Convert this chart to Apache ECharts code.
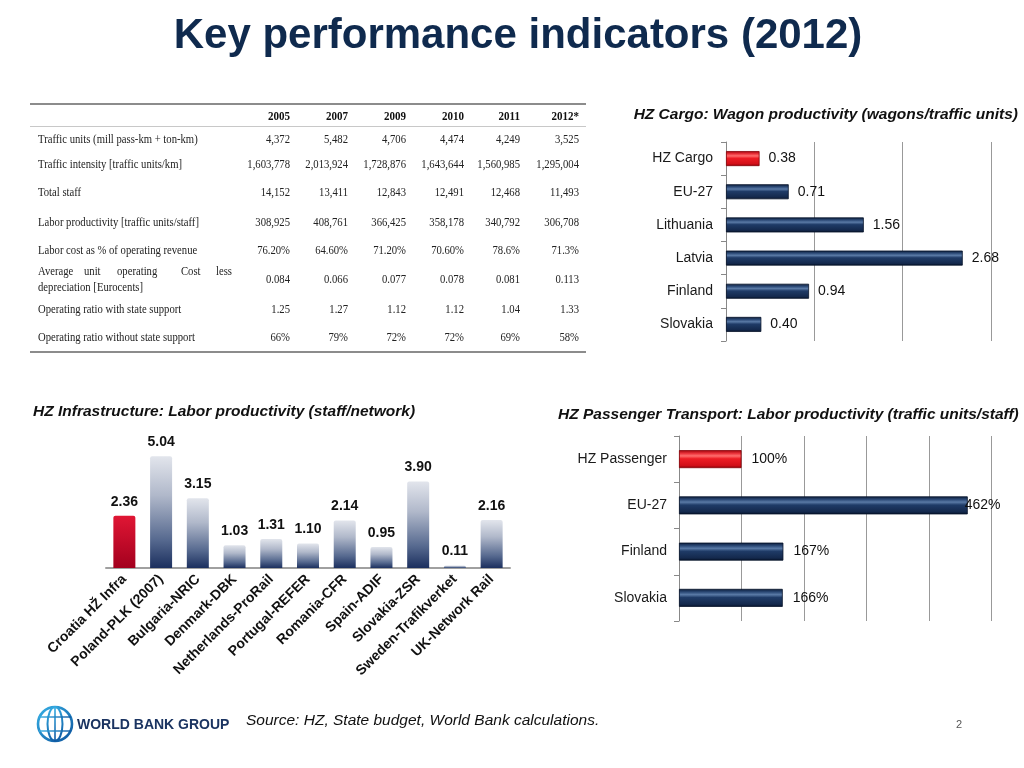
<!DOCTYPE html>
<html><head><meta charset="utf-8">
<script src="https://cdn.jsdelivr.net/npm/echarts@6/dist/echarts.min.js"></script>
<style>html,body{margin:0;padding:0;background:#fff}#c{width:1024px;height:768px}</style>
</head><body><div id="c"></div>
<script>
// ---------- DATA ----------
const tableYears = ['2005', '2007', '2009', '2010', '2011', '2012*'];
const tableRowLabels = [
  'Traffic units (mill pass-km + ton-km)',
  'Traffic intensity [traffic units/km]',
  'Total staff',
  'Labor productivity [traffic units/staff]',
  'Labor cost as % of operating revenue',
  'Average unit operating Cost less depreciation [Eurocents]',
  'Operating ratio with state support',
  'Operating ratio without state support'
];
const rowTrafficUnits = ['4,372', '5,482', '4,706', '4,474', '4,249', '3,525'];
const rowTrafficIntensity = ['1,603,778', '2,013,924', '1,728,876', '1,643,644', '1,560,985', '1,295,004'];
const rowTotalStaff = ['14,152', '13,411', '12,843', '12,491', '12,468', '11,493'];
const rowLaborProductivity = ['308,925', '408,761', '366,425', '358,178', '340,792', '306,708'];
const rowLaborCost = ['76.20%', '64.60%', '71.20%', '70.60%', '78.6%', '71.3%'];
const rowUnitCost = ['0.084', '0.066', '0.077', '0.078', '0.081', '0.113'];
const rowOpRatioWith = ['1.25', '1.27', '1.12', '1.12', '1.04', '1.33'];
const rowOpRatioWithout = ['66%', '79%', '72%', '72%', '69%', '58%'];

const cargoCategories = ['HZ Cargo', 'EU-27', 'Lithuania', 'Latvia', 'Finland', 'Slovakia'];
const cargoValues = [0.38, 0.71, 1.56, 2.68, 0.94, 0.40];

const infraCategories = ['Croatia HŽ Infra', 'Poland-PLK (2007)', 'Bulgaria-NRIC', 'Denmark-DBK',
  'Netherlands-ProRail', 'Portugal-REFER', 'Romania-CFR', 'Spain-ADIF', 'Slovakia-ZSR',
  'Sweden-Trafikverket', 'UK-Network Rail'];
const infraValues = [2.36, 5.04, 3.15, 1.03, 1.31, 1.10, 2.14, 0.95, 3.90, 0.11, 2.16];

const passengerCategories = ['HZ Passenger', 'EU-27', 'Finland', 'Slovakia'];
const passengerValues = [100, 462, 167, 166];

// ---------- STYLES ----------
const SANS = 'Arial, "Liberation Sans", Helvetica, sans-serif';
const SERIF = '"Times New Roman", "Liberation Serif", serif';
const navyH = {type: 'linear', x: 0, y: 0, x2: 0, y2: 1, colorStops: [
  {offset: 0, color: '#0a1b38'}, {offset: 0.18, color: '#2d4b78'}, {offset: 0.32, color: '#5a7aa6'},
  {offset: 0.48, color: '#1f3b67'}, {offset: 0.85, color: '#14294d'}, {offset: 1, color: '#06132a'}]};
const redH = {type: 'linear', x: 0, y: 0, x2: 0, y2: 1, colorStops: [
  {offset: 0, color: '#9a000a'}, {offset: 0.18, color: '#ea3038'}, {offset: 0.32, color: '#ff6e6e'},
  {offset: 0.48, color: '#ee1c24'}, {offset: 0.85, color: '#d20f18'}, {offset: 1, color: '#880008'}]};
const greyV = {type: 'linear', x: 0, y: 0, x2: 0, y2: 1, colorStops: [
  {offset: 0, color: '#e2e5ec'}, {offset: 0.35, color: '#b0b8ca'}, {offset: 0.75, color: '#56698f'},
  {offset: 1, color: '#1b2f5e'}]};
const redV = {type: 'linear', x: 0, y: 0, x2: 0, y2: 1, colorStops: [
  {offset: 0, color: '#e01634'}, {offset: 1, color: '#a3001e'}]};

// ---------- TABLE (graphic) ----------
const tableRows = [rowTrafficUnits, rowTrafficIntensity, rowTotalStaff, rowLaborProductivity,
  rowLaborCost, rowUnitCost, rowOpRatioWith, rowOpRatioWithout];
const rowY = [140, 165, 193, 223, 251, 280, 310, 338];
const colX = [290, 348, 406, 464, 520, 579];
const g = [];
function txt(x, y, text, font, fill, align, sx) {
  const el = {type: 'text', x: x, y: y, silent: true,
    style: {text: text, font: font, fill: fill || '#222', textAlign: align || 'left',
      textVerticalAlign: 'middle', verticalAlign: 'middle'}};
  if (sx) { el.scaleX = sx; }
  g.push(el);
  return el;
}
function line(x1, y1, x2, y2, stroke, w) {
  g.push({type: 'line', silent: true, shape: {x1, y1, x2, y2}, style: {stroke, lineWidth: w}});
}
const TF = '13px ' + SERIF, TS = 0.82;
line(30, 104, 586, 104, '#666', 1.5);
line(30, 126.5, 586, 126.5, '#c8c8c8', 1);
line(30, 352, 586, 352, '#666', 1.5);
tableYears.forEach((yr, i) => txt(colX[i], 117, yr, 'bold 13px ' + SERIF, '#111', 'right', 0.85));
tableRowLabels.forEach((lab, r) => {
  if (r === 5) {
    const words = lab.split(' ');
    const wx = [38, 84, 117, 181, 216];
    for (let k = 0; k < 5; k++) txt(wx[k], 272, words[k], TF, '#222', 'left', TS);
    txt(38, 288, words.slice(5).join(' '), TF, '#222', 'left', TS);
  } else {
    txt(38, rowY[r], lab, TF, '#222', 'left', TS);
  }
  tableRows[r].forEach((v, i) => txt(colX[i], rowY[r], v, TF, '#222', 'right', TS));
});

// ---------- TITLES ----------
txt(518, 36, 'Key performance indicators (2012)', 'bold 42px ' + SANS, '#0f2a4e', 'center');
txt(1018, 115, 'HZ Cargo: Wagon productivity (wagons/traffic units)', 'italic bold 15.5px ' + SANS, '#111', 'right');
txt(33, 412, 'HZ Infrastructure: Labor productivity (staff/network)', 'italic bold 15.5px ' + SANS, '#111', 'left');
txt(558, 415, 'HZ Passenger Transport: Labor productivity (traffic units/staff)', 'italic bold 15.5px ' + SANS, '#111', 'left');

// ---------- FOOTER ----------
txt(246, 721, 'Source: HZ, State budget, World Bank calculations.', 'italic 15.5px ' + SANS, '#111', 'left');
txt(959, 725, '2', '11px ' + SANS, '#555', 'center');
const globeGrad = {type: 'linear', x: 0, y: 0, x2: 1, y2: 1, colorStops: [
  {offset: 0, color: '#39b6ea'}, {offset: 1, color: '#0a4f9a'}]};
g.push({type: 'circle', silent: true, shape: {cx: 55, cy: 724, r: 17}, style: {fill: 'none', stroke: globeGrad, lineWidth: 2.6}});
g.push({type: 'ellipse', silent: true, shape: {cx: 55, cy: 724, rx: 7.5, ry: 17}, style: {fill: 'none', stroke: globeGrad, lineWidth: 2}});
g.push({type: 'line', silent: true, shape: {x1: 55, y1: 707, x2: 55, y2: 741}, style: {stroke: globeGrad, lineWidth: 1.6}});
g.push({type: 'line', silent: true, shape: {x1: 39, y1: 717, x2: 71, y2: 717}, style: {stroke: globeGrad, lineWidth: 1.4}});
g.push({type: 'line', silent: true, shape: {x1: 39, y1: 731, x2: 71, y2: 731}, style: {stroke: globeGrad, lineWidth: 1.4}});
txt(77, 725, 'WORLD BANK GROUP', 'bold 14px ' + SANS, '#1b3461', 'left');

// ---------- CHART ----------
const chart = echarts.init(document.getElementById('c'), null, {renderer: 'canvas'});
const catLabel = {fontSize: 14, color: '#1a1a1a', fontFamily: SANS};

chart.setOption({
  animation: false,
  backgroundColor: '#fff',
  grid: [
    {left: 726, top: 142, width: 265, height: 199},
    {left: 106, top: 435, width: 404, height: 133},
    {left: 679, top: 436, width: 312.5, height: 185}
  ],
  xAxis: [
    {type: 'value', gridIndex: 0, min: 0, max: 3, interval: 1,
      axisLine: {show: false}, axisTick: {show: false}, axisLabel: {show: false},
      splitLine: {lineStyle: {color: '#999', width: 1}}},
    {type: 'category', gridIndex: 1, data: infraCategories,
      axisLine: {lineStyle: {color: '#a0a0a0', width: 2}}, axisTick: {show: false},
      axisLabel: {interval: 0, rotate: 45, fontSize: 14, fontWeight: 'bold', color: '#111', fontFamily: SANS, margin: 9}},
    {type: 'value', gridIndex: 2, min: 0, max: 500, interval: 100,
      axisLine: {show: false}, axisTick: {show: false}, axisLabel: {show: false},
      splitLine: {lineStyle: {color: '#999', width: 1}}}
  ],
  yAxis: [
    {type: 'category', gridIndex: 0, data: cargoCategories, inverse: true,
      axisLine: {lineStyle: {color: '#888'}}, axisTick: {show: true, length: 5, lineStyle: {color: '#888'}},
      axisLabel: Object.assign({margin: 13}, catLabel)},
    {type: 'value', gridIndex: 1, min: 0, max: 6, show: false, splitLine: {show: false}},
    {type: 'category', gridIndex: 2, data: passengerCategories, inverse: true,
      axisLine: {lineStyle: {color: '#888'}}, axisTick: {show: true, length: 5, lineStyle: {color: '#888'}},
      axisLabel: Object.assign({margin: 12}, catLabel)}
  ],
  series: [
    {type: 'bar', xAxisIndex: 0, yAxisIndex: 0, barWidth: 15,
      data: cargoValues.map((v, i) => ({value: v, itemStyle: {color: i === 0 ? redH : navyH, borderColor: i === 0 ? '#8a0008' : '#06132a', borderWidth: 0.8}})),
      label: {show: true, position: 'right', distance: 9, fontSize: 14, color: '#111', fontFamily: SANS,
        formatter: p => p.value.toFixed(2)}},
    {type: 'bar', xAxisIndex: 1, yAxisIndex: 1, barWidth: 22,
      data: infraValues.map((v, i) => ({value: v, itemStyle: {color: i === 0 ? redV : greyV, borderRadius: [2, 2, 0, 0]}})),
      label: {show: true, position: 'top', distance: 7, fontSize: 14, fontWeight: 'bold', color: '#111', fontFamily: SANS,
        formatter: p => p.value.toFixed(2)}},
    {type: 'bar', xAxisIndex: 2, yAxisIndex: 2, barWidth: 18,
      data: passengerValues.map((v, i) => ({value: v,
        itemStyle: {color: i === 0 ? redH : navyH, borderColor: i === 0 ? '#8a0008' : '#06132a', borderWidth: 0.8},
        label: i === 1 ? {offset: [-13, 0]} : undefined})),
      label: {show: true, position: 'right', distance: 10, fontSize: 14, color: '#111', fontFamily: SANS,
        formatter: p => p.value + '%'}}
  ],
  graphic: {elements: g}
});
</script>
</body></html>
